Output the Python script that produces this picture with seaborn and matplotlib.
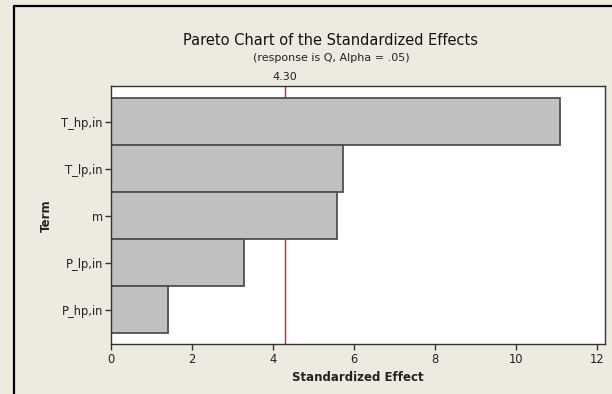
import matplotlib
matplotlib.use("Agg")
import matplotlib.pyplot as plt
import matplotlib.transforms as mtransforms
from matplotlib.lines import Line2D
import seaborn as sns
import pandas as pd

# Standardized effects for each term
terms = ["T_hp,in", "T_lp,in", "m", "P_lp,in", "P_hp,in"]
effects = [11.08, 5.72, 5.59, 3.29, 1.40]
critical_value = 4.30
x_ticks = [0, 2, 4, 6, 8, 10, 12]

sns.set_theme(style="white")
plt.rcParams["font.family"] = ["DejaVu Sans"]

df = pd.DataFrame({"Term": terms, "Effect": effects})

fig = plt.figure(figsize=(6.12, 3.94), dpi=100)
fig.patch.set_facecolor("#EEEAE0")
ax = fig.add_axes([0.1819, 0.1261, 0.8071, 0.6549])
ax.set_facecolor("white")

sns.barplot(data=df, x="Effect", y="Term", orient="h", order=terms,
            color="#C0C0C0", saturation=1, width=1.0,
            edgecolor="#505050", linewidth=1.3, ax=ax)
for patch in ax.patches:
    patch.set_alpha(1.0)
    patch.set_zorder(3)

y_top, y_bottom = -0.756, 4.74
ax.set_xlim(0, 12.21)
ax.set_ylim(y_bottom, y_top)

# Critical-value line: shown only where no bar reaches past it
segments = []
start = y_top
for i, val in enumerate(effects):
    if val >= critical_value:
        if i - 0.5 > start:
            segments.append((start, i - 0.5))
        start = i + 0.5
segments.append((start, y_bottom))
for y0, y1 in segments:
    ax.vlines(critical_value, y0, y1, color="#E41A1C", lw=1.0, zorder=1)

trans = mtransforms.blended_transform_factory(ax.transData, ax.transAxes)
ax.text(critical_value, 1.016, f"{critical_value:.2f}", transform=trans,
        ha="center", va="bottom", fontsize=8, color="#222222")

ax.set_xticks(x_ticks)
ax.set_xticklabels([str(t) for t in x_ticks])

ax.tick_params(axis="both", which="both", direction="out", length=4,
               width=1, color="#333333", labelsize=8.3, labelcolor="#222222",
               pad=2, left=True, bottom=True)
for side in ["left", "right", "top", "bottom"]:
    ax.spines[side].set_visible(True)
    ax.spines[side].set_color("#333333")
    ax.spines[side].set_linewidth(1.0)
    ax.spines[side].set_zorder(4)

ax.set_xlabel("Standardized Effect", fontsize=8.5, fontweight="bold",
              color="#222222", labelpad=4)
ax.set_ylabel("Term", fontsize=8.5, fontweight="bold", color="#222222",
              labelpad=6)

fig.text(0.5408, 0.898, "Pareto Chart of the Standardized Effects",
         ha="center", va="center", fontsize=10.5, color="#111111")
fig.text(0.5408, 0.853, "(response is Q, Alpha = .05)",
         ha="center", va="center", fontsize=8, color="#222222")

# Frame lines along the top and left edges of the figure
fig.add_artist(Line2D([13.7 / 612, 13.7 / 612], [0, 1 - 6 / 394],
                      transform=fig.transFigure, color="black", lw=1.6))
fig.add_artist(Line2D([13.7 / 612, 1], [1 - 6 / 394, 1 - 6 / 394],
                      transform=fig.transFigure, color="black", lw=1.6))

fig.savefig("out.png", dpi=100, facecolor=fig.get_facecolor())
